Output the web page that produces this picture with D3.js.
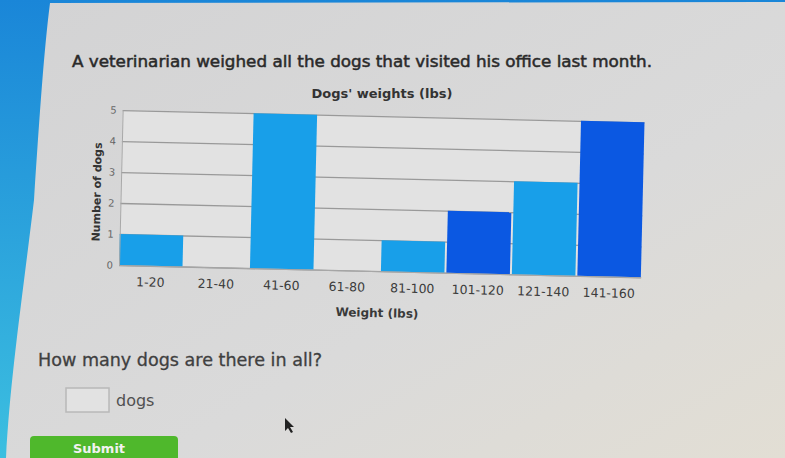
<!DOCTYPE html>
<html>
<head>
<meta charset="utf-8">
<script src="https://cdn.jsdelivr.net/npm/d3@7"></script>
<style>
  body { margin: 0; background: #d8d8d8; }
  svg { display: block; font-family: "DejaVu Sans", Verdana, sans-serif; }
</style>
</head>
<body>
<svg width="785" height="458"></svg>
<script>
// data
const categories = ['1-20', '21-40', '41-60', '61-80', '81-100', '101-120', '121-140', '141-160'];
const dogCounts = [1, 0, 5, 0, 1, 2, 3, 5];
const yTicks = [0, 1, 2, 3, 4, 5];
const barColors = ['#189fe9', '#0b58e2'];

const svg = d3.select('svg');
const defs = svg.append('defs');

// page look (photo of a screen)
const pg = defs.append('linearGradient').attr('id', 'page')
    .attr('x1', 0).attr('y1', 0).attr('x2', 1).attr('y2', 1);
pg.append('stop').attr('offset', 0).attr('stop-color', '#d3d3d4');
pg.append('stop').attr('offset', 0.6).attr('stop-color', '#dadada');
pg.append('stop').attr('offset', 1).attr('stop-color', '#e2ded4');
const bg = defs.append('linearGradient').attr('id', 'blue')
    .attr('x1', 0).attr('y1', 0).attr('x2', 0).attr('y2', 1);
bg.append('stop').attr('offset', 0).attr('stop-color', '#1a86d8');
bg.append('stop').attr('offset', 1).attr('stop-color', '#3cbfe0');

svg.append('rect').attr('width', 785).attr('height', 458).attr('fill', 'url(#blue)');
svg.append('path')
    .attr('d', 'M50,3 L785,2 L785,458 L6,458 C10,380 22,300 34,200 C40,110 44,50 50,3 Z')
    .attr('fill', 'url(#page)');

svg.append('text')
    .attr('x', 72).attr('y', 67)
    .attr('font-size', 16).attr('fill', '#2a2a2a')
    .attr('stroke', '#2a2a2a').attr('stroke-width', 0.5)
    .attr('textLength', 580).attr('lengthAdjust', 'spacingAndGlyphs')
    .text('A veterinarian weighed all the dogs that visited his office last month.');

svg.append('text')
    .attr('x', 382).attr('y', 98).attr('text-anchor', 'middle')
    .attr('font-size', 13).attr('font-weight', 'bold').attr('fill', '#333')
    .text("Dogs' weights (lbs)");

// chart, tilted a little like in the photo
const plotLeft = 119, plotRight = 641, plotBottom = 265, plotTop = 110;
const g = svg.append('g').attr('transform', `rotate(1.35, ${plotLeft}, ${plotBottom})`);

const x = d3.scaleBand().domain(categories).range([plotLeft, plotRight]).paddingInner(0.03);
const y = d3.scaleLinear().domain([0, 5]).range([plotBottom, plotTop]);

g.append('rect')
    .attr('x', plotLeft).attr('y', plotTop)
    .attr('width', plotRight - plotLeft).attr('height', plotBottom - plotTop)
    .attr('fill', '#e2e2e2');

const grid = g.append('g')
    .attr('transform', `translate(${plotLeft},0)`)
    .call(d3.axisLeft(y).tickValues(yTicks).tickSize(-(plotRight - plotLeft)).tickFormat(''));
grid.select('.domain').remove();
grid.selectAll('line').attr('stroke', '#999').attr('stroke-width', 1.3);

g.append('g')
    .selectAll('rect')
    .data(dogCounts)
    .join('rect')
    .attr('x', (d, i) => x(categories[i]))
    .attr('y', d => y(d))
    .attr('width', x.bandwidth())
    .attr('height', d => y(0) - y(d))
    .attr('fill', (d, i) => barColors[i % 2]);

const yAxis = g.append('g')
    .attr('transform', `translate(${plotLeft},0)`)
    .call(d3.axisLeft(y).tickValues(yTicks).tickSize(0).tickPadding(6).tickFormat(d3.format('d')));
yAxis.select('.domain').attr('stroke', '#a8a8a8');
yAxis.selectAll('text').attr('font-size', 10).attr('fill', '#666')
    .attr('font-family', '"DejaVu Sans", sans-serif');

const xAxis = g.append('g')
    .attr('transform', `translate(0,${plotBottom})`)
    .call(d3.axisBottom(x).tickSize(0).tickPadding(12));
xAxis.select('.domain').attr('stroke', '#a8a8a8');
xAxis.selectAll('text').attr('font-size', 12.5).attr('fill', '#3c3c3c')
    .attr('font-family', '"DejaVu Sans", sans-serif');

g.append('text')
    .attr('x', (plotLeft + plotRight) / 2 - 2).attr('y', plotBottom + 46)
    .attr('text-anchor', 'middle')
    .attr('font-size', 12).attr('font-weight', 'bold').attr('fill', '#3a3a3a')
    .text('Weight (lbs)');

g.append('text')
    .attr('transform', `translate(${plotLeft - 20},${(plotTop + plotBottom) / 2 + 5}) rotate(-90)`)
    .attr('text-anchor', 'middle')
    .attr('font-size', 11).attr('font-weight', 'bold').attr('fill', '#333')
    .text('Number of dogs');

// question part
svg.append('text')
    .attr('x', 38).attr('y', 366)
    .attr('font-size', 17).attr('fill', '#404040')
    .attr('stroke', '#404040').attr('stroke-width', 0.3)
    .attr('textLength', 284).attr('lengthAdjust', 'spacingAndGlyphs')
    .text('How many dogs are there in all?');

svg.append('rect')
    .attr('x', 66).attr('y', 388).attr('width', 43).attr('height', 24)
    .attr('fill', '#e2e2e2').attr('stroke', '#b8b8b8').attr('stroke-width', 1.5);

svg.append('text')
    .attr('x', 116).attr('y', 406)
    .attr('font-size', 16).attr('fill', '#505050')
    .text('dogs');

svg.append('rect')
    .attr('x', 30).attr('y', 436).attr('width', 148).attr('height', 40).attr('rx', 4)
    .attr('fill', '#4fb82c');
svg.append('text')
    .attr('x', 99).attr('y', 453).attr('text-anchor', 'middle')
    .attr('font-size', 13).attr('font-weight', 'bold').attr('fill', '#f2f2f2')
    .text('Submit');

// mouse pointer in the photo
svg.append('path')
    .attr('d', 'M285,418 L285,431 L288,428 L291,433 L293,432 L290,427 L294,427 Z')
    .attr('fill', '#222');
</script>
</body>
</html>
